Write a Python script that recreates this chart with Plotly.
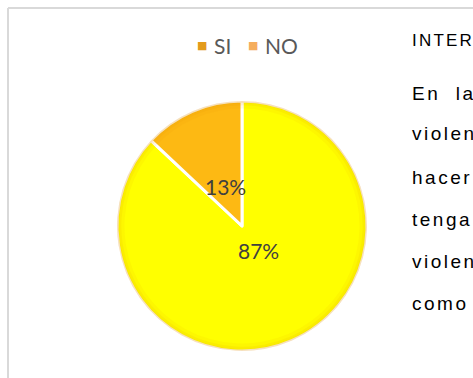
import math
import plotly.graph_objects as go

labels = ["SI", "NO"]
values = [87, 13]
slice_colors = ["#FFFF00", "#FDB913"]
legend_colors = ["#E39B1C", "#F5AD5E"]
side_text = ["INTER", "En  la", "violen", "hacer", "tenga", "violen", "como"]

W, H = 473, 378
CX, CY, R = 242, 226, 125  # pie centre / radius in px


def px(x):
    return x / W


def py(y):
    return 1 - y / H


dom = dict(x=[px(CX - R), px(CX + R)], y=[py(CY + R), py(CY - R)])

fig = go.Figure()
fig.add_trace(go.Pie(
    labels=labels, values=values, sort=False, direction="clockwise", rotation=0,
    marker=dict(colors=slice_colors, line=dict(color="white", width=3)),
    textinfo="none", domain=dom, showlegend=False, hoverinfo="label+percent",
))
# edge shading rings
for hole, a in [(0.94, 0.07), (0.965, 0.09), (0.985, 0.12)]:
    fig.add_trace(go.Pie(
        labels=labels, values=values, sort=False, direction="clockwise", rotation=0, hole=hole,
        marker=dict(colors=[f"rgba(225,140,0,{a})"] * 2, line=dict(width=0)),
        textinfo="none", domain=dom, showlegend=False, hoverinfo="skip",
    ))

# percentage labels at mid-angle of each slice
total = sum(values)
start = 0.0
for v in values:
    mid = start + v / total * 360 / 2
    start += v / total * 360
    r = 0.34 * R
    x = CX + r * math.sin(math.radians(mid))
    y = CY - r * math.cos(math.radians(mid))
    fig.add_annotation(x=px(x), y=py(y), xref="paper", yref="paper",
                       text=f"{round(v / total * 100)}%", showarrow=False,
                       font=dict(family="Lato", size=21, color="#404040"))

# custom legend
mk_x = [202, 253]
tx_x = [212, 263]
for i, lab in enumerate(labels):
    fig.add_annotation(x=px(mk_x[i]), y=py(45), xref="paper", yref="paper", text="■",
                       showarrow=False, xanchor="center", yanchor="middle",
                       font=dict(family="DejaVu Sans", size=11, color=legend_colors[i]))
    fig.add_annotation(x=px(tx_x[i]), y=py(46), xref="paper", yref="paper", text=lab,
                       showarrow=False, xanchor="left", yanchor="middle",
                       font=dict(family="Lato", size=21, color="#595959"))

# frame
fig.add_shape(type="line", xref="paper", yref="paper", x0=px(8), x1=1, y0=py(8), y1=py(8),
              line=dict(color="#D9D9D9", width=2))
fig.add_shape(type="line", xref="paper", yref="paper", x0=px(8), x1=px(8), y0=0, y1=py(8),
              line=dict(color="#D9D9D9", width=2))

ys = [40, 93, 134, 177, 219, 261, 303]
for i, t in enumerate(side_text):
    fig.add_annotation(x=px(410), y=py(ys[i]), xref="paper", yref="paper",
                       text=f"<span style='letter-spacing:{2.2 if i == 0 else 2.5}px'>{t}</span>",
                       showarrow=False, xanchor="left", yanchor="middle",
                       font=dict(family="Liberation Sans", size=17 if i == 0 else 19, color="#000000"))

fig.update_layout(width=W, height=H, margin=dict(l=0, r=0, t=0, b=0),
                  paper_bgcolor="white", plot_bgcolor="white")
fig.write_html("out.html", config={"displayModeBar": False},
               post_script="document.body.style.margin='0px';")
